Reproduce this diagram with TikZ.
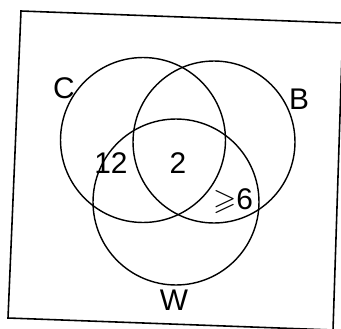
\documentclass[tikz,border=0pt]{standalone}
\usepackage{amsmath, amssymb}
\usepackage{fontspec}
\setsansfont{Liberation Sans}
\usepackage{tikz}

\begin{document}
\begin{tikzpicture}[
      x=0.02cm, y=-0.02cm,
      vset/.style={draw, circle, line width=0.8pt, inner sep=0pt},
      lab/.style={font=\sffamily\fontsize{17}{17}\selectfont},
      num/.style={font=\sffamily\fontsize{17}{17}\selectfont}
    ]
      \useasboundingbox (0,0) rectangle (341,328);

      % frame, slightly skewed as in the scan
      \coordinate (tl) at (21,11);
      \coordinate (tr) at (343,23);
      \coordinate (br) at (333,330);
      \coordinate (bl) at (8,318);
      \draw[line width=0.9pt] (tl) -- (tr) -- (br) -- (bl) -- cycle;

      % the three sets
      \node[vset, minimum size=3.30cm] (C) at (143,140) {};
      \node[vset, minimum size=3.24cm] (B) at (214,142) {};
      \node[vset, minimum size=3.32cm] (W) at (176,202) {};

      \node[lab] (Clab) at (64,88) {C};
      \node[lab] (Blab) at (299,99) {B};
      \node[lab] (Wlab) at (174,300) {W};

      \node[num] (n12) at (111,163) {12};
      \node[num] (n2) at (178,163) {2};
      \node[num] (n6) at (233,201) {$\geqslant$6};

    \end{tikzpicture}
\end{document}
